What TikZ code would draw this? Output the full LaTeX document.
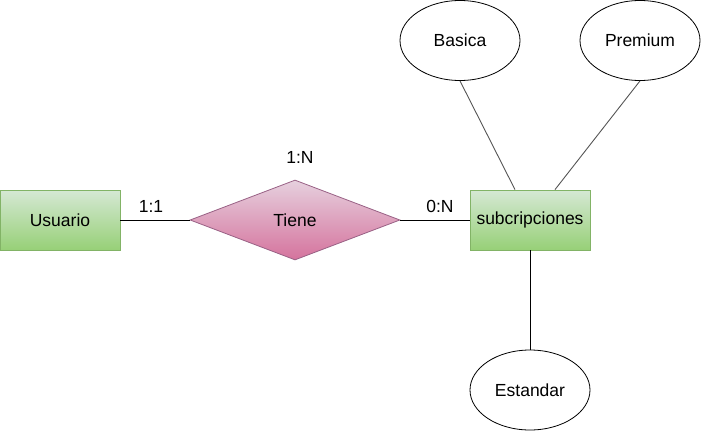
\documentclass[tikz,border=0pt]{standalone}
\usepackage{fontspec}
\setmainfont{Liberation Sans}
\usetikzlibrary{shapes.geometric,calc}
\definecolor{gtop}{HTML}{D5E8D4}
\definecolor{gbot}{HTML}{97D077}
\definecolor{gline}{HTML}{82B366}
\definecolor{ptop}{HTML}{E6D0DE}
\definecolor{pbot}{HTML}{D5739D}
\definecolor{pline}{HTML}{996185}
\definecolor{attline}{HTML}{555555}
\begin{document}
\begin{tikzpicture}[x=1pt,y=-1pt,
  every node/.style={font=\fontsize{17.5}{20}\selectfont},
  entity/.style={rectangle,draw=gline,line width=0.8pt,top color=gtop,bottom color=gbot,minimum width=120pt,minimum height=60pt,inner sep=0pt},
  rel/.style={diamond,draw=pline,line width=0.8pt,top color=ptop,bottom color=pbot,minimum width=210pt,minimum height=80pt,aspect=2.625,inner sep=0pt},
  attr/.style={ellipse,draw=black,line width=0.8pt,fill=white,minimum width=120pt,minimum height=80pt,inner sep=0pt},
  conn/.style={draw=black,line width=0.8pt},
  aconn/.style={draw=attline,line width=0.9pt},
  lbl/.style={inner sep=0pt}]
\useasboundingbox (0,0) rectangle (701,431);
\node[entity] (u) at (60,220) {Usuario};
\node[rel] (t) at (295,220) {Tiene};
\node[entity] (s) at (530,220) {subcripciones};
\node[attr] (b) at (460,40.5) {Basica};
\node[attr] (p) at (640,40.5) {Premium};
\node[attr] (e) at (530,390) {Estandar};
\draw[conn] (u.east) -- (t.west);
\draw[conn] (t.east) -- (s.west);
\draw[conn] (s.south) -- (e.north);
\draw[aconn] (b.south) -- ([xshift=-15pt]s.north);
\draw[aconn] (p.south) -- ([xshift=25pt]s.north);
\node[lbl] (l1) at (151,206) {1:1};
\node[lbl] (l2) at (300,157) {1:N};
\node[lbl] (l3) at (440,206) {0:N};
\end{tikzpicture}
\end{document}
